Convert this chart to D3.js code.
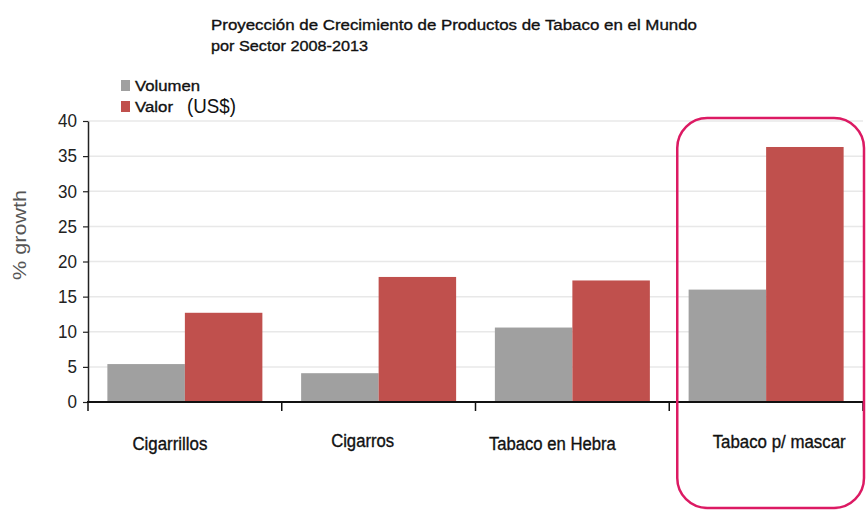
<!DOCTYPE html>
<html>
<head>
<meta charset="utf-8">
<script src="https://cdn.jsdelivr.net/npm/d3@7"></script>
<style>
  html, body { margin: 0; padding: 0; background: #fff; }
  svg { display: block; font-family: "Liberation Sans", Arial, sans-serif; }
</style>
</head>
<body>
<svg id="chart" width="866" height="511"></svg>
<script>
// ---- data ----
const categories = ["Cigarrillos", "Cigarros", "Tabaco en Hebra", "Tabaco p/ mascar"];
const seriesNames = ["Volumen", "Valor"];
const volumen = [5.4, 4.1, 10.6, 16.0];
const valor = [12.7, 17.8, 17.3, 36.3];
const yTickValues = [0, 5, 10, 15, 20, 25, 30, 35, 40];
const highlighted = "Tabaco p/ mascar";

// ---- layout ----
const W = 866, H = 511;
const plot = { left: 88, right: 863, top: 121, bottom: 402 };
const seriesColors = ["#a0a0a0", "#c0504d"];
// small hand nudges for the category captions (px from band centre, baseline y)
const labelDx = [-15, -16, -20, 13];
const labelBaseline = [450, 447, 450, 448];
const labelWidth = [75, 63, 127, 133];

const svg = d3.select("#chart");
svg.append("rect").attr("width", W).attr("height", H).attr("fill", "#fff");

const x = d3.scaleBand().domain(categories)
  .range([plot.left, plot.right]).paddingInner(0.2).paddingOuter(0.1);
const xOuter = d3.scaleBand().domain(categories).range([plot.left, plot.right]);
const xSub = d3.scaleBand().domain(seriesNames).range([0, x.bandwidth()]);
const y = d3.scaleLinear().domain([0, 40]).range([plot.bottom, plot.top]);

// gridlines
svg.append("g").selectAll("line").data(yTickValues.filter(v => v > 0)).join("line")
  .attr("x1", plot.left).attr("x2", plot.right)
  .attr("y1", d => y(d)).attr("y2", d => y(d))
  .attr("stroke", "#e8e8e8").attr("stroke-width", 1.5);

// bars
const rows = categories.map((c, i) => ({ cat: c, values: [volumen[i], valor[i]] }));
const groups = svg.append("g").selectAll("g").data(rows).join("g")
  .attr("transform", d => `translate(${x(d.cat)},0)`);
groups.selectAll("rect").data(d => d.values.map((v, k) => ({ s: seriesNames[k], v, k })))
  .join("rect")
  .attr("x", d => xSub(d.s))
  .attr("width", xSub.bandwidth())
  .attr("y", d => y(d.v))
  .attr("height", d => y(0) - y(d.v))
  .attr("fill", d => seriesColors[d.k]);

// y axis
const yAxis = svg.append("g").attr("transform", `translate(${plot.left},0)`)
  .call(d3.axisLeft(y).tickValues(yTickValues).tickSize(5).tickPadding(6).tickSizeOuter(0));
yAxis.select(".domain").attr("stroke", "#222").attr("stroke-width", 1.5);
yAxis.selectAll(".tick line").attr("stroke", "#222").attr("stroke-width", 1.2);
yAxis.selectAll(".tick text").attr("font-size", 18).attr("fill", "#222")
  .attr("font-family", "'Liberation Sans', Arial, sans-serif")
  .attr("textLength", d => String(d).length * 9.5).attr("lengthAdjust", "spacingAndGlyphs");

// x axis with ticks at the category boundaries
const xAxis = svg.append("g").attr("transform", `translate(0,${plot.bottom})`);
xAxis.append("line").attr("x1", plot.left - 1).attr("x2", plot.right + 1)
  .attr("stroke", "#111").attr("stroke-width", 2.2);
const boundaries = categories.map(c => xOuter(c)).concat([xOuter(categories[categories.length - 1]) + xOuter.step()]);
xAxis.selectAll("line.tick").data(boundaries).join("line").attr("class", "tick")
  .attr("x1", d => d).attr("x2", d => d).attr("y1", 0).attr("y2", 9)
  .attr("stroke", "#111").attr("stroke-width", 1.5);

// category captions
svg.append("g").selectAll("text").data(categories).join("text")
  .attr("x", (d, i) => x(d) + x.bandwidth() / 2 + labelDx[i])
  .attr("y", (d, i) => labelBaseline[i])
  .attr("text-anchor", "middle")
  .attr("font-size", 17.5).attr("fill", "#111")
  .attr("stroke", "#111").attr("stroke-width", 0.35)
  .attr("textLength", (d, i) => labelWidth[i]).attr("lengthAdjust", "spacingAndGlyphs")
  .text(d => d);

// y axis title
svg.append("text")
  .attr("transform", "translate(26,235) rotate(-90)")
  .attr("text-anchor", "middle")
  .attr("font-size", 18).attr("fill", "#555")
  .attr("textLength", 90).attr("lengthAdjust", "spacingAndGlyphs")
  .text("% growth");

// title
const title = svg.append("g").attr("fill", "#111").attr("font-size", 15.5)
  .attr("stroke", "#111").attr("stroke-width", 0.35);
title.append("text").attr("x", 211).attr("y", 30)
  .attr("textLength", 486).attr("lengthAdjust", "spacingAndGlyphs")
  .text("Proyección de Crecimiento de Productos de Tabaco en el Mundo");
title.append("text").attr("x", 211).attr("y", 51)
  .attr("textLength", 157).attr("lengthAdjust", "spacingAndGlyphs")
  .text("por Sector 2008-2013");

// legend
const legend = svg.append("g");
const legendY = [80, 101];
const legendTextW = [65, 38];
seriesNames.forEach((s, i) => {
  legend.append("rect").attr("x", 121).attr("y", legendY[i])
    .attr("width", 9).attr("height", 11).attr("fill", seriesColors[i]);
  legend.append("text").attr("x", 135).attr("y", legendY[i] + 11)
    .attr("font-size", 15.5).attr("fill", "#111")
    .attr("stroke", "#111").attr("stroke-width", 0.35)
    .attr("textLength", legendTextW[i]).attr("lengthAdjust", "spacingAndGlyphs")
    .text(s);
});
legend.append("text").attr("x", 187).attr("y", 113)
  .attr("font-size", 21).attr("fill", "#111")
  .attr("textLength", 49).attr("lengthAdjust", "spacingAndGlyphs")
  .text("(US$)");

// highlight frame around one category
const hx0 = xOuter(highlighted) + 8;
const hx1 = xOuter(highlighted) + xOuter.step() + 1;
svg.append("rect")
  .attr("x", hx0).attr("y", y(40) - 3)
  .attr("width", hx1 - hx0).attr("height", 508 - (y(40) - 3))
  .attr("rx", 30).attr("ry", 30)
  .attr("fill", "none").attr("stroke", "#dc1a63").attr("stroke-width", 2.5);
</script>
</body>
</html>
